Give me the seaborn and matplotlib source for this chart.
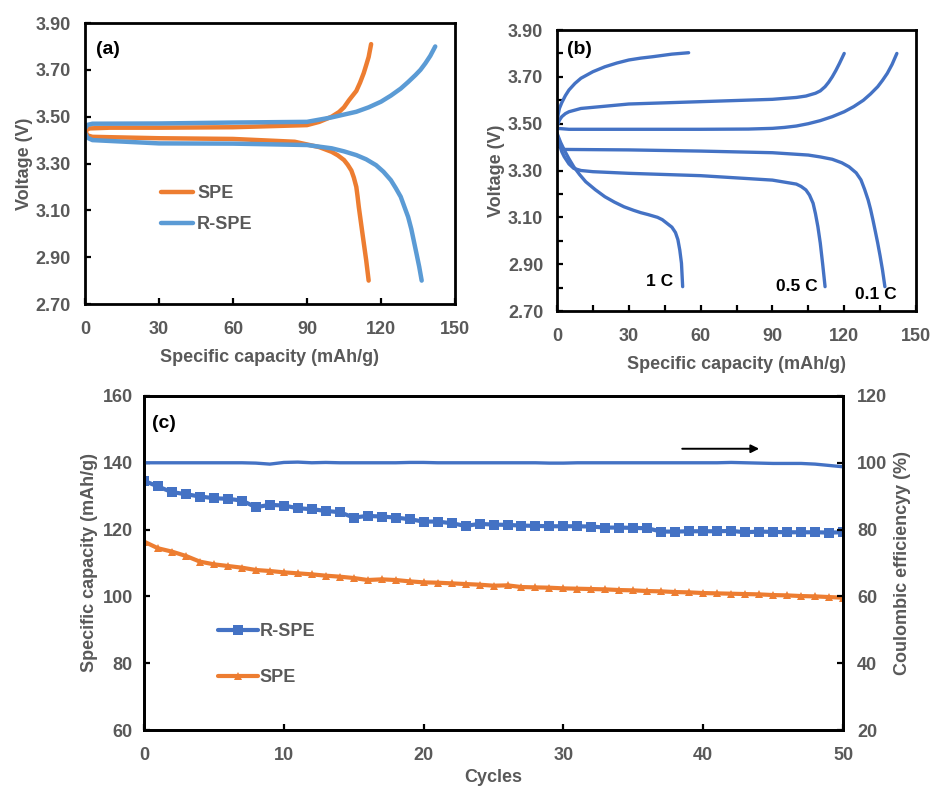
import matplotlib
matplotlib.use("Agg")
import matplotlib.pyplot as plt
import seaborn as sns

# ---- (a) charge/discharge at 0.1 C, SPE vs R-SPE
spe_chg_cap = [0, 0.5, 1, 2, 10, 30, 60, 90, 95, 100, 103, 105, 107, 110, 111.5, 113, 114, 115, 116]
spe_chg_v = [3.43, 3.44, 3.447, 3.45, 3.453, 3.453, 3.455, 3.464, 3.478, 3.50, 3.52, 3.54, 3.57,
             3.61, 3.645, 3.686, 3.72, 3.755, 3.81]
spe_dis_cap = [0, 1, 3, 30, 60, 85, 95, 97.5, 100, 102.5, 105, 106.5, 108, 109, 110, 110.5, 111,
               112.5, 114, 115]
spe_dis_v = [3.44, 3.42, 3.414, 3.408, 3.405, 3.393, 3.37, 3.36, 3.35, 3.335, 3.315, 3.295, 3.27,
             3.24, 3.20, 3.16, 3.115, 3.00, 2.887, 2.80]
rspe_chg_cap = [0, 1, 3, 30, 60, 90, 100, 110, 115, 120, 124, 128, 131, 134, 136, 138, 140, 142]
rspe_chg_v = [3.45, 3.465, 3.47, 3.471, 3.475, 3.478, 3.497, 3.521, 3.54, 3.564, 3.59, 3.62, 3.648,
              3.678, 3.70, 3.728, 3.76, 3.80]
rspe_dis_cap = [0, 1, 3, 30, 60, 90, 100, 105, 110, 114, 118, 121, 124, 126, 128, 129.5, 131,
                132.3, 133.5, 134.5, 135.5, 136.5]
rspe_dis_v = [3.43, 3.41, 3.40, 3.386, 3.385, 3.379, 3.365, 3.352, 3.336, 3.318, 3.293, 3.265,
              3.229, 3.195, 3.158, 3.115, 3.072, 3.02, 2.96, 2.91, 2.859, 2.80]
rest_cap = [0, 0]
rest_v = [2.80, 3.80]

# ---- (b) R-SPE at different rates
c1_chg_cap = [0, 0.5, 1, 2, 3.5, 5, 7.5, 10, 15, 20, 25, 30, 35, 40, 48, 55]
c1_chg_v = [3.50, 3.54, 3.565, 3.59, 3.62, 3.644, 3.672, 3.694, 3.722, 3.743, 3.759, 3.772, 3.78,
            3.786, 3.797, 3.803]
c1_dis_cap = [0, 1.5, 3, 5, 7, 9.5, 12, 16, 20, 24, 28, 32, 35, 38, 42, 44, 46, 48, 49.5, 50.5,
              51.3, 52, 52.5]
c1_dis_v = [3.459, 3.42, 3.388, 3.35, 3.316, 3.282, 3.252, 3.218, 3.188, 3.165, 3.145, 3.13, 3.12,
            3.112, 3.10, 3.09, 3.074, 3.058, 3.035, 3.005, 2.96, 2.904, 2.804]
c05_chg_cap = [0, 1, 2, 3.5, 5, 10, 30, 60, 90, 100, 104, 108, 110, 112, 113.5, 115, 116.5, 118, 120]
c05_chg_v = [3.487, 3.515, 3.53, 3.543, 3.551, 3.565, 3.584, 3.594, 3.604, 3.612, 3.618, 3.63,
             3.64, 3.658, 3.677, 3.70, 3.727, 3.757, 3.80]
c05_dis_cap = [0, 1, 2, 3, 5, 7, 10, 15, 30, 60, 90, 100, 102, 104, 105.5, 107, 108, 109, 110,
               111, 112]
c05_dis_v = [3.459, 3.41, 3.38, 3.359, 3.328, 3.309, 3.30, 3.295, 3.288, 3.278, 3.259, 3.242,
             3.232, 3.217, 3.195, 3.16, 3.115, 3.06, 2.99, 2.90, 2.804]
c01_chg_cap = [0, 5, 30, 60, 80, 90, 95, 100, 105, 110, 115, 120, 124, 128, 131, 134, 136, 138,
               140, 142]
c01_chg_v = [3.48, 3.476, 3.476, 3.476, 3.477, 3.48, 3.484, 3.49, 3.50, 3.513, 3.53, 3.551, 3.573,
             3.60, 3.627, 3.658, 3.685, 3.715, 3.753, 3.80]
c01_dis_cap = [0, 1, 2, 3, 30, 60, 90, 105, 110, 115, 119, 122, 125, 127, 128.5, 130, 131, 132,
               133, 134, 135, 136, 137]
c01_dis_v = [3.43, 3.405, 3.395, 3.39, 3.388, 3.383, 3.376, 3.366, 3.358, 3.348, 3.333, 3.316,
             3.29, 3.26, 3.22, 3.174, 3.135, 3.089, 3.04, 2.99, 2.935, 2.875, 2.804]
rate_labels = ["1 C", "0.5 C", "0.1 C"]
rate_label_x = [43, 100, 133]
rate_label_y = [2.825, 2.805, 2.77]

# ---- (c) cycling at 0.1 C
cycles = list(range(51))
rspe_cap = [134.6, 132.9, 131.2, 130.6, 129.9, 129.4, 129.2, 128.7, 126.7, 127.4,
            127.2, 126.4, 126.1, 125.6, 125.2, 123.6, 124.1, 123.9, 123.6, 123.1,
            122.4, 122.4, 121.9, 121.1, 121.7, 121.5, 121.4, 121.2, 121.1, 121.0,
            121.0, 121.0, 120.9, 120.6, 120.6, 120.5, 120.4, 119.4, 119.4, 119.5,
            119.5, 119.5, 119.6, 119.2, 119.4, 119.3, 119.2, 119.2, 119.2, 119.1, 119.2]
spe_cap = [116.4, 114.4, 113.4, 112.1, 110.4, 109.6, 109.1, 108.6, 107.9, 107.6,
           107.2, 106.9, 106.6, 106.2, 105.9, 105.5, 104.9, 105.1, 104.9, 104.5,
           104.2, 104.1, 103.9, 103.7, 103.5, 103.2, 103.3, 102.8, 102.7, 102.6,
           102.4, 102.3, 102.2, 102.1, 101.9, 101.8, 101.6, 101.5, 101.3, 101.2,
           101.0, 100.9, 100.8, 100.7, 100.6, 100.4, 100.3, 100.1, 100.0, 99.8, 99.6]
ce = [100.0, 100.0, 100.0, 100.0, 100.0, 100.0, 100.0, 100.0, 99.9, 99.6,
      100.1, 100.2, 100.0, 100.1, 100.0, 100.0, 100.0, 100.0, 100.0, 100.1,
      100.1, 100.0, 100.0, 100.0, 100.0, 100.0, 100.0, 100.0, 100.0, 99.9,
      99.9, 100.0, 100.0, 100.0, 100.0, 100.0, 100.0, 100.0, 100.0, 100.0,
      100.0, 100.0, 100.1, 100.0, 99.9, 99.8, 99.8, 99.8, 99.6, 99.2, 98.8]
tail_x = [50, 50]
tail_y = [119.2, 100.5]

ORANGE = "#ED7D31"
LBLUE = "#5B9BD5"
BLUE = "#4472C4"
GREY = "#595959"

sns.set_theme(style="ticks")
plt.rcParams["font.family"] = ["Liberation Sans", "DejaVu Sans"]
plt.rcParams["font.weight"] = "bold"
plt.rcParams["xtick.direction"] = "in"
plt.rcParams["ytick.direction"] = "in"

fig = plt.figure(figsize=(9.31, 7.94), dpi=100)
ax_a = fig.add_axes([0.0913, 0.6171, 0.3974, 0.3539])
ax_b = fig.add_axes([0.5983, 0.6083, 0.3856, 0.3539])
ax_c = fig.add_axes([0.1547, 0.0806, 0.7508, 0.4207])

FS = 13
tick_kw = dict(labelsize=FS, labelcolor=GREY, color="black", width=1.6, length=4)
label_kw = dict(fontsize=FS, color=GREY, fontweight="bold")


def style_volt_axes(ax):
    ax.set_xlim(0, 150)
    ax.set_ylim(2.70, 3.90)
    ax.set_xticks([0, 30, 60, 90, 120, 150])
    ax.set_yticks([2.70, 2.90, 3.10, 3.30, 3.50, 3.70, 3.90])
    ax.set_yticklabels([f"{v:.2f}" for v in ax.get_yticks()])
    ax.tick_params(**tick_kw)
    ax.tick_params(axis="x", pad=12)
    ax.tick_params(axis="y", pad=10)
    for lab in ax.get_xticklabels() + ax.get_yticklabels():
        lab.set_fontweight("bold")
    ax.set_xlabel("Specific capacity (mAh/g)", labelpad=8, **label_kw)
    ax.set_ylabel("Voltage (V)", labelpad=2, **label_kw)


# (a)
for c, v in [(spe_chg_cap, spe_chg_v), (spe_dis_cap, spe_dis_v)]:
    sns.lineplot(x=c, y=v, sort=False, estimator=None, ax=ax_a, color=ORANGE, lw=3.2)
for c, v in [(rspe_chg_cap, rspe_chg_v), (rspe_dis_cap, rspe_dis_v)]:
    sns.lineplot(x=c, y=v, sort=False, estimator=None, ax=ax_a, color=LBLUE, lw=3.2)
sns.lineplot(x=rest_cap, y=rest_v, sort=False, estimator=None, ax=ax_a, color=ORANGE, lw=1.2)
sns.lineplot(x=rest_cap, y=rest_v, sort=False, estimator=None, ax=ax_a, color=LBLUE, lw=1.2)
h_spe, = ax_a.plot([], [], color=ORANGE, lw=3.2, label="SPE")
h_rspe, = ax_a.plot([], [], color=LBLUE, lw=3.2, label="R-SPE")
style_volt_axes(ax_a)
leg = ax_a.legend(handles=[h_spe, h_rspe], loc="center left", bbox_to_anchor=(0.205, 0.338),
                  frameon=False, fontsize=FS, handlelength=1.8, handletextpad=0.2,
                  labelspacing=0.8, borderpad=0, borderaxespad=0)
for t in leg.get_texts():
    t.set_color(GREY)
    t.set_fontweight("bold")
ax_a.text(0.03, 0.905, "(a)", transform=ax_a.transAxes, fontsize=14, fontweight="bold",
          color="black", va="center")

# (b)
for c, v in [(c1_chg_cap, c1_chg_v), (c1_dis_cap, c1_dis_v), (c05_chg_cap, c05_chg_v),
             (c05_dis_cap, c05_dis_v), (c01_chg_cap, c01_chg_v), (c01_dis_cap, c01_dis_v)]:
    sns.lineplot(x=c, y=v, sort=False, estimator=None, ax=ax_b, color=BLUE, lw=2.4)
sns.lineplot(x=rest_cap, y=rest_v, sort=False, estimator=None, ax=ax_b, color=BLUE, lw=1.2)
style_volt_axes(ax_b)
ax_b.set_xticks([15, 45, 75, 105, 135], minor=True)
ax_b.set_yticks([2.80, 3.00, 3.20, 3.40, 3.60, 3.80], minor=True)
ax_b.tick_params(which="minor", color="black", width=1.6, length=4)
for lab, x, y in zip(rate_labels, rate_label_x, rate_label_y):
    ax_b.text(x, y, lab, fontsize=12.5, fontweight="bold", color="black", ha="center", va="center")
ax_b.text(0.028, 0.929, "(b)", transform=ax_b.transAxes, fontsize=14, fontweight="bold",
          color="black", va="center")

# (c)
ax_c2 = ax_c.twinx()
sns.lineplot(x=cycles, y=rspe_cap, ax=ax_c, color=BLUE, lw=3.0, marker="s", markersize=7,
             markeredgewidth=0, label="R-SPE")
sns.lineplot(x=cycles, y=spe_cap, ax=ax_c, color=ORANGE, lw=3.0, marker="^", markersize=6,
             markeredgewidth=0, label="SPE")
sns.lineplot(x=tail_x, y=tail_y, sort=False, estimator=None, ax=ax_c, color=BLUE, lw=1.0)
sns.lineplot(x=cycles, y=ce, ax=ax_c2, color=BLUE, lw=2.4)
ax_c.set_xlim(0, 50)
ax_c.set_ylim(60, 160)
ax_c2.set_ylim(20, 120)
ax_c.set_xticks([0, 10, 20, 30, 40, 50])
ax_c.set_yticks([60, 80, 100, 120, 140, 160])
ax_c2.set_yticks([20, 40, 60, 80, 100, 120])
ax_c.tick_params(**tick_kw)
ax_c2.tick_params(**tick_kw)
ax_c.tick_params(axis="x", pad=12)
ax_c.tick_params(axis="y", pad=8)
ax_c2.tick_params(axis="y", pad=10)
for lab in ax_c.get_xticklabels() + ax_c.get_yticklabels() + ax_c2.get_yticklabels():
    lab.set_fontweight("bold")
ax_c.set_xlabel("Cycles", labelpad=4, **label_kw)
ax_c.set_ylabel("Specific capacity (mAh/g)", labelpad=3, **label_kw)
ax_c2.set_ylabel("Coulombic efficiencyy (%)", labelpad=5, **label_kw)
ax_c2.annotate("", xy=(44.2, 104.2), xytext=(38.3, 104.2),
               arrowprops=dict(arrowstyle="-|>", color="black", lw=1.4, mutation_scale=12))
leg_c = ax_c.legend(loc="center left", bbox_to_anchor=(0.106, 0.226), frameon=False,
                    fontsize=FS, handlelength=2.2, handletextpad=0.1, labelspacing=1.6,
                    borderpad=0, borderaxespad=0)
for t in leg_c.get_texts():
    t.set_color(GREY)
    t.set_fontweight("bold")
ax_c.text(0.011, 0.919, "(c)", transform=ax_c.transAxes, fontsize=14, fontweight="bold",
          color="black", va="center")

for ax in [ax_a, ax_b, ax_c, ax_c2]:
    for s in ax.spines.values():
        s.set_color("black")
        s.set_linewidth(2.0)

fig.savefig("out.png", dpi=100)
